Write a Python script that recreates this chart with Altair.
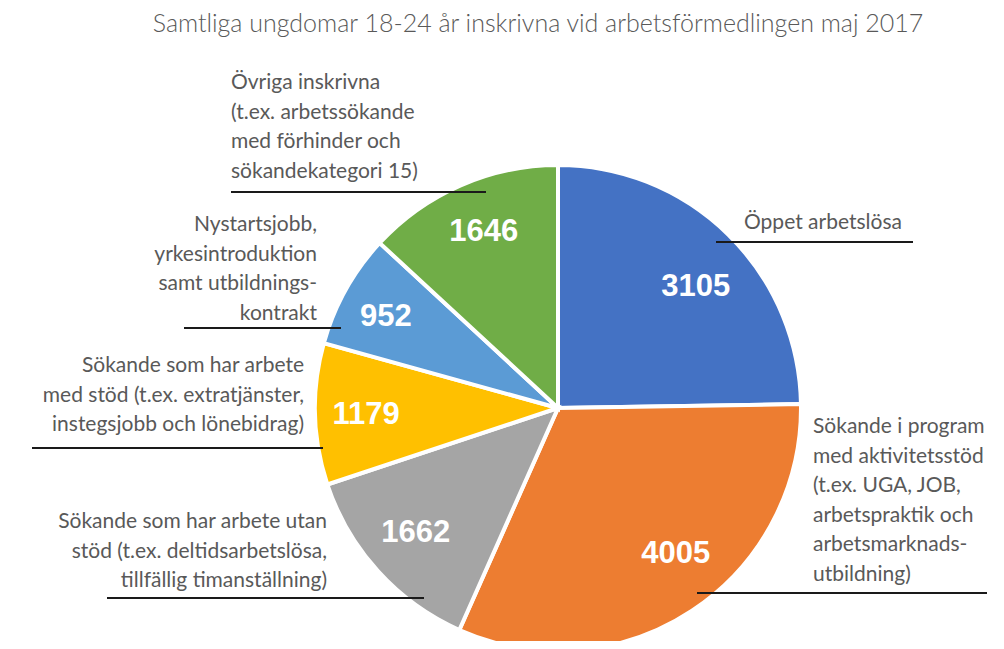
import altair as alt
import pandas as pd

# ---- data ----
categories = [
    "Öppet arbetslösa",
    "Sökande i program med aktivitetsstöd",
    "Sökande som har arbete utan stöd",
    "Sökande som har arbete med stöd",
    "Nystartsjobb m.m.",
    "Övriga inskrivna",
]
values = [3105, 4005, 1662, 1179, 952, 1646]
colors = ["#4472C4", "#ED7D31", "#A5A5A5", "#FFC000", "#5B9BD5", "#70AD47"]
label_lines = [
    ["Öppet arbetslösa"],
    ["Sökande i program", "med aktivitetsstöd", "(t.ex. UGA, JOB,", "arbetspraktik och",
     "arbetsmarknads-", "utbildning)"],
    ["Sökande som har arbete utan", "stöd (t.ex. deltidsarbetslösa,", "tillfällig timanställning)"],
    ["Sökande som har arbete", "med stöd (t.ex. extratjänster,", "instegsjobb och lönebidrag)"],
    ["Nystartsjobb,", "yrkesintroduktion", "samt utbildnings-", "kontrakt"],
    ["Övriga inskrivna", "(t.ex. arbetssökande", "med förhinder och", "sökandekategori 15)"],
]
title_text = "Samtliga ungdomar 18-24 år inskrivna vid arbetsförmedlingen  maj 2017"

# ---- layout (pixels in plot area) ----
W, H = 988, 633
CX, CY, R = 550, 400, 243
LABEL_R = 188
LINE_H = 29.6
# per-slice nudges of the value labels (dx, dy)
num_offsets = [(6, 13), (14, -11), (-3, -1), (-4, 2), (-8, 1), (1, -4)]
# (x, first-line y, align)
label_pos = [(736, 215, "left"), (805, 419, "left"), (319, 514, "right"),
             (296, 358, "right"), (309, 217, "right"), (223, 75, "left")]
# (x1, x2, y) leader/underline
underlines = [(708, 905, 234), (689, 979, 585), (99, 416, 590),
              (24, 315, 440), (176, 333, 320), (223, 478, 184)]

LABEL_FONT = "Lato"
LABEL_COLOR = "#595959"

total = sum(values)
pie_df = pd.DataFrame({"cat": categories, "value": values, "order": list(range(len(values)))})
pie_df["mid"] = pie_df["value"].cumsum() - pie_df["value"] / 2

arcs = alt.Chart(pie_df).mark_arc(radius=R, stroke="white", strokeWidth=4).encode(
    theta=alt.Theta("value:Q", stack=True),
    order=alt.Order("order:Q"),
    x=alt.value(CX), y=alt.value(CY),
    color=alt.Color("cat:N", scale=alt.Scale(domain=categories, range=colors), legend=None),
)

num_layers = []
for i, (dx, dy) in enumerate(num_offsets):
    num_layers.append(
        alt.Chart(pie_df).transform_filter(alt.datum.order == i).mark_text(
            radius=LABEL_R, font="Liberation Sans", fontSize=31, fontWeight="bold",
            color="white", dx=dx, dy=dy
        ).encode(
            theta=alt.Theta("mid:Q", stack=None, scale=alt.Scale(domain=[0, total])),
            x=alt.value(CX), y=alt.value(CY), text="value:Q",
        )
    )

rows = []
for lines, (lx, ly, al) in zip(label_lines, label_pos):
    for i, t in enumerate(lines):
        rows.append({"x": lx, "y": ly + i * LINE_H, "text": t, "align": al})
lab_df = pd.DataFrame(rows)

def label_layer(al):
    return alt.Chart(lab_df[lab_df["align"] == al]).mark_text(
        align=al, baseline="middle", font=LABEL_FONT, fontSize=21, color=LABEL_COLOR
    ).encode(
        x=alt.X("x:Q", scale=None, axis=None),
        y=alt.Y("y:Q", scale=None, axis=None),
        text="text:N",
    )

line_df = pd.DataFrame([{"x1": a, "x2": b, "y": c} for a, b, c in underlines])
rules = alt.Chart(line_df).mark_rule(color="#1a1a1a", strokeWidth=1.8).encode(
    x=alt.X("x1:Q", scale=None, axis=None),
    x2="x2:Q",
    y=alt.Y("y:Q", scale=None, axis=None),
)

title = alt.Chart(pd.DataFrame({"t": [title_text]})).mark_text(
    font=LABEL_FONT, fontWeight=300, fontSize=25, color=LABEL_COLOR, baseline="middle", align="center"
).encode(x=alt.value(530), y=alt.value(16), text="t:N")

chart = alt.layer(arcs, *num_layers, label_layer("left"), label_layer("right"), rules, title).resolve_scale(
    theta="independent"
).properties(
    width=W, height=H, padding=0, autosize=alt.AutoSizeParams(type="none")
).configure_view(stroke=None)

chart.save("out.html", embed_options={"renderer": "svg", "actions": False})
